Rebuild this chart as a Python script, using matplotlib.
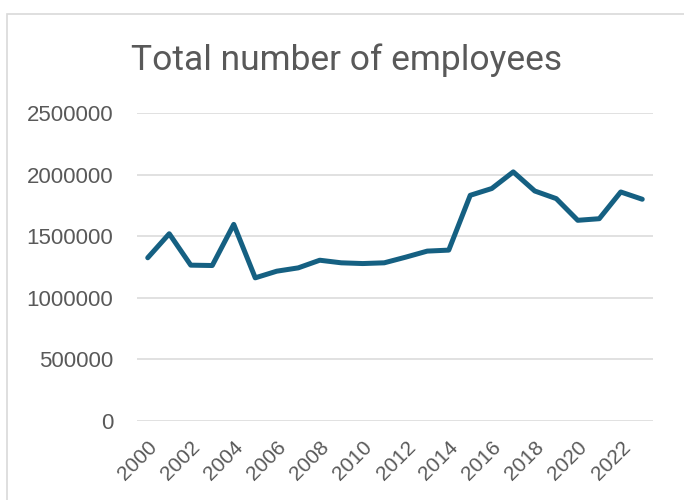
import matplotlib.pyplot as plt
from matplotlib.patches import Rectangle

years = list(range(2000, 2024))
employees = [1325000, 1520000, 1265000, 1262000, 1596000, 1162000, 1216000, 1243000,
             1305000, 1284000, 1278000, 1284000, 1330000, 1379000, 1387000, 1832000,
             1887000, 2022000, 1867000, 1805000, 1629000, 1642000, 1859000, 1800000]
y_ticks = [0, 500000, 1000000, 1500000, 2000000, 2500000]
x_ticks = list(range(2000, 2023, 2))

W, H = 684, 500
fig = plt.figure(figsize=(W / 100, H / 100), dpi=100)
ax = fig.add_axes([137 / W, 1 - 421 / H, (653 - 137) / W, (421 - 113) / H])

# chart area border (Excel style), runs off the right and bottom edge
fig.patches.append(Rectangle((7 / W, -0.1), 1.2, 1 - 14 / H + 0.1, transform=fig.transFigure,
                             fill=False, edgecolor='#D9D9D9', linewidth=1.2))

ax.plot(years, employees, color='#156082', linewidth=3.6,
        solid_joinstyle='round', solid_capstyle='round')

ax.set_xlim(1999.5, 2023.5)
ax.set_ylim(0, 2500000)
ax.set_yticks(y_ticks)
ax.set_yticklabels([str(v) for v in y_ticks])
ax.set_xticks(x_ticks)
ax.set_xticklabels([str(v) for v in x_ticks], rotation=45, ha='right',
                   va='top', rotation_mode='anchor')
ax.grid(axis='y', color='#D9D9D9', linewidth=1.1)
ax.set_axisbelow(True)
for s in ax.spines.values():
    s.set_visible(False)
ax.tick_params(axis='both', length=0, colors='#595959')
ax.tick_params(axis='y', pad=17, labelsize=16)
ax.tick_params(axis='x', pad=12, labelsize=15)
for lab in ax.get_xticklabels() + ax.get_yticklabels():
    lab.set_fontfamily('Liberation Sans')

fig.text(347 / W, 1 - 70 / H, 'Total number of employees', ha='center', va='baseline',
         fontsize=25.5, color='#595959', fontfamily='Roboto')

fig.savefig('out.png', dpi=100)
